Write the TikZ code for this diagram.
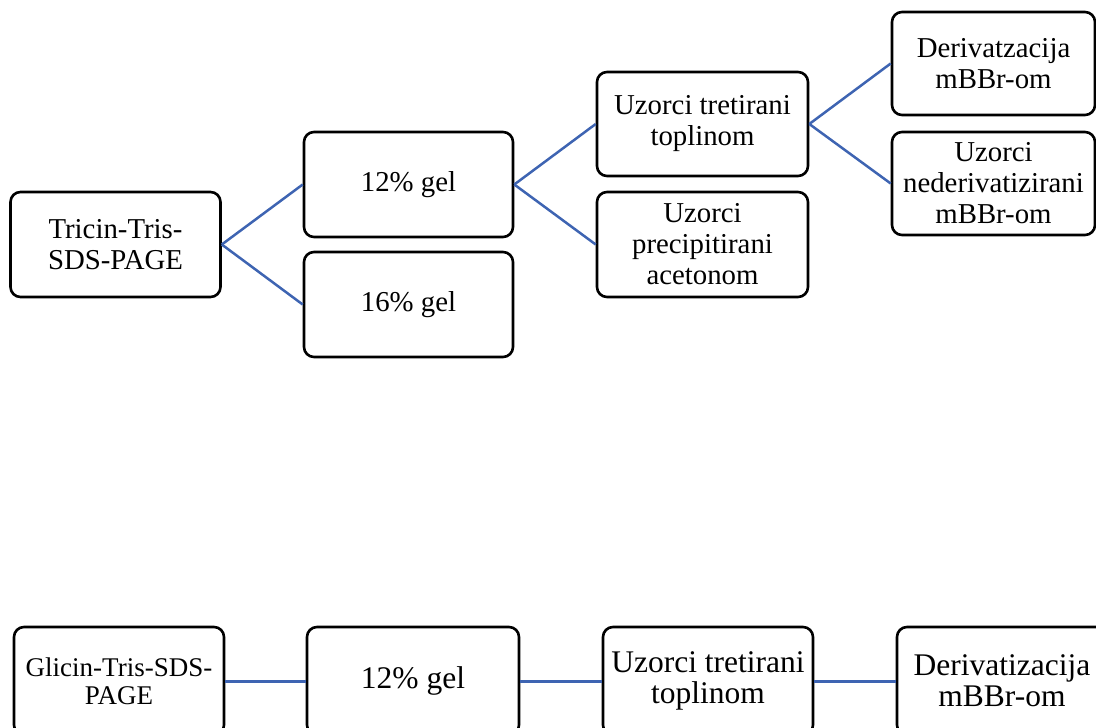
\documentclass[tikz,border=0pt]{standalone}
\usepackage{fontspec}
\setmainfont{Liberation Serif}
\definecolor{linkblue}{RGB}{62,100,178}
\begin{document}
\begin{tikzpicture}[x=1pt,y=-1pt,
  box/.style={draw=black, line width=2.6pt, rounded corners=10pt, align=center,
    inner sep=0pt, fill=white, font=\fontsize{28.8}{31}\selectfont},
  bigbox/.style={box, font=\fontsize{31.5}{31}\selectfont},
  smallbox/.style={box, font=\fontsize{27}{28}\selectfont},
  link/.style={draw=linkblue, line width=2.5pt},
  flatlink/.style={draw=linkblue, line width=3pt}]
\useasboundingbox (0,0) rectangle (1096,728);

% top tree
\node[box, minimum width=210pt, minimum height=105pt] (tricin) at (115.5,244.5) {Tricin-Tris-\\SDS-PAGE};
\node[box, minimum width=209pt, minimum height=105pt] (g12) at (408.5,184.5) {12\% gel};
\node[box, minimum width=209pt, minimum height=105pt] (g16) at (408.5,304.5) {16\% gel};
\node[box, minimum width=211pt, minimum height=104pt] (uzt) at (702.5,124) {Uzorci tretirani\\toplinom};
\node[box, minimum width=211pt, minimum height=105pt] (prec) at (702.5,244.5) {Uzorci\\precipitirani\\acetonom};
\node[box, minimum width=203pt, minimum height=103pt] (der) at (993.5,63.5) {Derivatzacija\\mBBr-om};
\node[box, minimum width=203pt, minimum height=103pt] (neder) at (993.5,183.5) {Uzorci\\nederivatizirani\\mBBr-om};

\draw[link] (tricin.east) -- (g12.west);
\draw[link] (tricin.east) -- (g16.west);
\draw[link] (g12.east) -- (uzt.west);
\draw[link] (g12.east) -- (prec.west);
\draw[link] (uzt.east) -- (der.west);
\draw[link] (uzt.east) -- (neder.west);

% bottom row
\node[smallbox, minimum width=210pt, minimum height=108pt] (glicin) at (119,681) {Glicin-Tris-SDS-\\PAGE};
\node[bigbox, minimum width=212pt, minimum height=108pt] (g12b) at (413,681) {12\% gel};
\node[bigbox, minimum width=210pt, minimum height=108pt] (uzb) at (708,681) {Uzorci tretirani\\toplinom};
\node[bigbox, minimum width=210pt, minimum height=108pt] (derb) at (1002,681) {Derivatizacija\\mBBr-om};

\draw[flatlink] (glicin.east) -- (g12b.west);
\draw[flatlink] (g12b.east) -- (uzb.west);
\draw[flatlink] (uzb.east) -- (derb.west);
\end{tikzpicture}
\end{document}
